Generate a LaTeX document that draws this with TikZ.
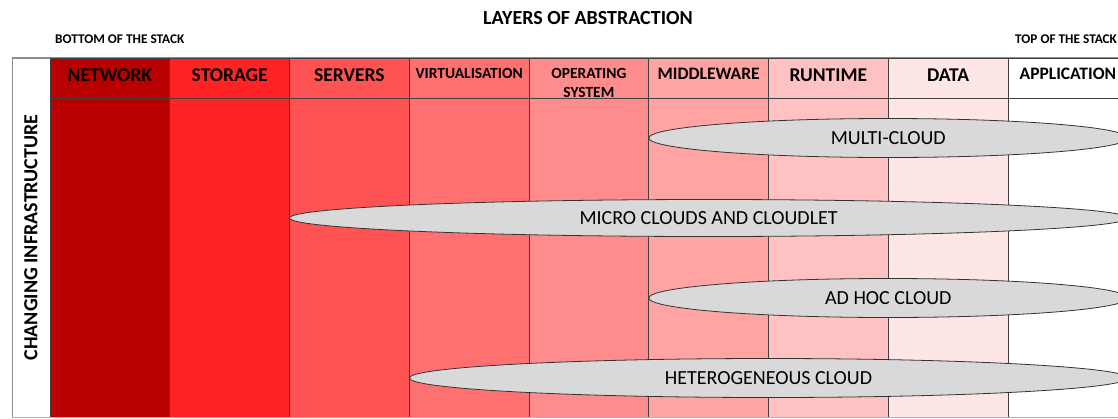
\documentclass[tikz,border=0pt]{standalone}
\usepackage{fontspec}
\setmainfont{Carlito}
\usetikzlibrary{shapes.geometric}

\definecolor{netcol}{RGB}{184,0,0}
\definecolor{stocol}{RGB}{255,36,36}
\definecolor{srvcol}{RGB}{255,82,82}
\definecolor{virtcol}{RGB}{255,112,112}
\definecolor{oscol}{RGB}{255,140,140}
\definecolor{midcol}{RGB}{255,163,163}
\definecolor{runcol}{RGB}{255,194,194}
\definecolor{datacol}{RGB}{255,230,230}
\definecolor{blobcol}{RGB}{217,217,217}

\begin{document}
\begin{tikzpicture}[x=1pt,y=-1pt]
		\tikzstyle{layer}=[draw=black!75,line width=0.8pt,minimum width=119.75pt,minimum height=359pt,inner sep=0pt]
		\tikzstyle{head}=[font=\bfseries\fontsize{19.5}{22}\selectfont,inner sep=0pt]
		\tikzstyle{smallhead}=[font=\bfseries\fontsize{15.5}{19}\selectfont,inner sep=0pt,align=center]
		\tikzstyle{blob}=[ellipse,draw=black!80,fill=blobcol,line width=0.8pt,minimum height=39pt,inner sep=0pt,font=\fontsize{20}{22}\selectfont]
		
		\useasboundingbox (0,0) rectangle (1118,418);
		
		% columns of the stack
		\node (side) at (31,237.5) [layer, draw=black!45, minimum width=38pt] {};
		\node (net) at (109.875,237.5) [layer, fill=netcol] {};
		\node (sto) at (229.625,237.5) [layer, fill=stocol] {};
		\node (srv) at (349.375,237.5) [layer, fill=srvcol] {};
		\node (virt) at (469.125,237.5) [layer, fill=virtcol] {};
		\node (os) at (588.875,237.5) [layer, fill=oscol] {};
		\node (mid) at (708.625,237.5) [layer, fill=midcol] {};
		\node (run) at (828.375,237.5) [layer, fill=runcol] {};
		\node (data) at (948.125,237.5) [layer, fill=datacol] {};
		\node (app) at (1067.875,237.5) [layer, fill=white] {};
		
		\coordinate (hl) at (50,98);
		\coordinate (hr) at (1128,98);
		\draw[black!75, line width=0.8pt] (hl)--(hr);
		\draw[black!45, line width=0.8pt] (side.north west)--(app.north east);
		\draw[black!30, line width=0.8pt] (side.south west)--(app.south east);
		
		% headers
		\node (netH) at (109.875,75) [head] {NETWORK};
		\node (stoH) at (229.625,75) [head] {STORAGE};
		\node (srvH) at (349.375,75) [head] {SERVERS};
		\node (virtH) at (469.125,73) [smallhead] {VIRTUALISATION};
		\node (osH) at (588.875,82.5) [smallhead] {OPERATING\\SYSTEM};
		\node (midH) at (708.625,74) [head, font=\bfseries\fontsize{17.5}{20}\selectfont] {MIDDLEWARE};
		\node (runH) at (828.375,75) [head] {RUNTIME};
		\node (dataH) at (948.125,75) [head] {DATA};
		\node (appH) at (1067.875,74) [head, font=\bfseries\fontsize{17.5}{20}\selectfont] {APPLICATION};
		\node (sideH) at (31,237.5) [head, rotate=90, font=\bfseries\fontsize{20}{22}\selectfont] {CHANGING INFRASTRUCTURE};
		
		% titles
		\node (title) at (588,18) [head, font=\bfseries\fontsize{20}{22}\selectfont] {LAYERS OF ABSTRACTION};
		\node (bottom) at (55,39) [anchor=west, inner sep=0pt, font=\bfseries\fontsize{13.3}{15}\selectfont] {BOTTOM OF THE STACK};
		\node (top) at (1015,39) [anchor=west, inner sep=0pt, font=\bfseries\fontsize{13.3}{15}\selectfont] {TOP OF THE STACK};
		
		% clouds
		\node (multi) at (888.25,138) [blob, minimum width=479pt] {MULTI-CLOUD};
		\node (micro) at (708.6,218) [blob, minimum width=838.25pt, minimum height=37pt] {MICRO CLOUDS AND CLOUDLET};
		\node (adhoc) at (888.25,298) [blob, minimum width=479pt] {AD HOC CLOUD};
		\node (hetero) at (768.5,378) [blob, minimum width=718.5pt] {HETEROGENEOUS CLOUD};
		
\end{tikzpicture}
\end{document}
